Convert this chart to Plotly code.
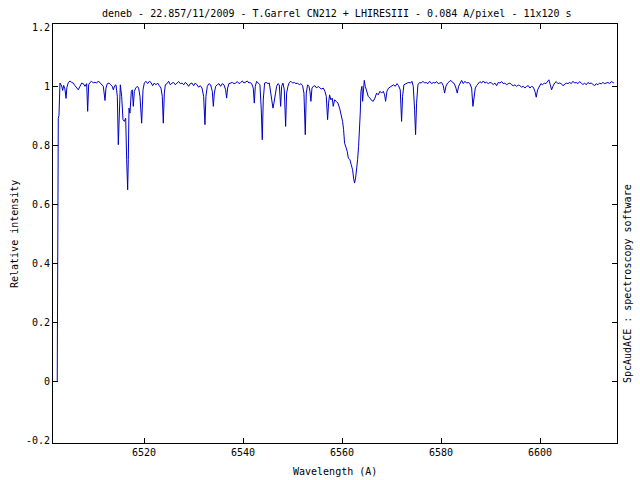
import plotly.graph_objects as go

# Wavelength (A) and relative intensity
wavelength = [
    6502.45, 6502.50, 6502.62, 6502.66, 6502.80, 6503.00, 6503.35, 6503.55, 6503.75, 6504.00,
    6504.22, 6504.40, 6504.69, 6505.03, 6505.37, 6505.70, 6506.04, 6506.38, 6506.71, 6507.05,
    6507.39, 6507.72, 6508.06, 6508.40, 6508.60, 6508.80, 6509.07, 6509.41, 6509.75, 6510.08,
    6510.42, 6510.76, 6511.09, 6511.43, 6511.76, 6512.10, 6512.30, 6512.57, 6512.91, 6513.25,
    6513.58, 6513.78, 6514.05, 6514.32, 6514.59, 6514.79, 6515.00, 6515.20, 6515.47, 6515.74,
    6516.01, 6516.28, 6516.48, 6516.68, 6516.81, 6516.95, 6517.15, 6517.42, 6517.62, 6517.82,
    6518.03, 6518.30, 6518.63, 6518.90, 6519.17, 6519.51, 6519.78, 6520.05, 6520.38, 6520.72,
    6521.06, 6521.39, 6521.73, 6522.07, 6522.40, 6522.74, 6523.08, 6523.41, 6523.68, 6523.88,
    6524.09, 6524.29, 6524.63, 6524.96, 6525.30, 6525.64, 6525.97, 6526.31, 6526.65, 6526.98,
    6527.32, 6527.66, 6527.99, 6528.33, 6528.67, 6529.00, 6529.34, 6529.68, 6530.01, 6530.35,
    6530.69, 6531.02, 6531.36, 6531.70, 6532.03, 6532.30, 6532.50, 6532.77, 6533.11, 6533.45,
    6533.78, 6533.99, 6534.19, 6534.46, 6534.79, 6535.13, 6535.47, 6535.80, 6536.14, 6536.48,
    6536.68, 6536.88, 6537.15, 6537.49, 6537.83, 6538.16, 6538.50, 6538.84, 6539.17, 6539.51,
    6539.85, 6540.18, 6540.52, 6540.86, 6541.19, 6541.39, 6541.73, 6542.06, 6542.27, 6542.47,
    6542.74, 6543.07, 6543.41, 6543.68, 6543.88, 6544.08, 6544.35, 6544.69, 6545.03, 6545.30,
    6545.57, 6545.83, 6546.04, 6546.24, 6546.51, 6546.78, 6547.05, 6547.32, 6547.59, 6547.79,
    6548.06, 6548.33, 6548.60, 6548.80, 6549.07, 6549.34, 6549.67, 6550.01, 6550.35, 6550.68,
    6551.02, 6551.36, 6551.69, 6552.03, 6552.30, 6552.57, 6552.77, 6553.04, 6553.31, 6553.51,
    6553.71, 6553.92, 6554.18, 6554.52, 6554.86, 6555.19, 6555.53, 6555.87, 6556.21, 6556.54,
    6556.81, 6557.08, 6557.28, 6557.48, 6557.75, 6558.02, 6558.22, 6558.49, 6558.83, 6559.17,
    6559.50, 6559.84, 6560.11, 6560.31, 6560.51, 6560.78, 6561.05, 6561.26, 6561.59, 6561.86,
    6562.13, 6562.33, 6562.53, 6562.74, 6562.94, 6563.14, 6563.34, 6563.55, 6563.68, 6563.81,
    6564.02, 6564.15, 6564.35, 6564.49, 6564.69, 6564.96, 6565.29, 6565.63, 6565.97, 6566.30,
    6566.64, 6566.98, 6567.31, 6567.65, 6567.99, 6568.33, 6568.60, 6568.80, 6569.07, 6569.40,
    6569.74, 6570.08, 6570.41, 6570.75, 6571.09, 6571.42, 6571.76, 6572.03, 6572.23, 6572.50,
    6572.84, 6573.17, 6573.51, 6573.85, 6574.12, 6574.39, 6574.66, 6574.86, 6575.06, 6575.33,
    6575.67, 6576.00, 6576.34, 6576.68, 6577.01, 6577.35, 6577.69, 6578.10, 6578.43, 6578.77,
    6579.11, 6579.44, 6579.78, 6580.12, 6580.45, 6580.72, 6580.99, 6581.33, 6581.67, 6582.00,
    6582.34, 6582.68, 6583.01, 6583.28, 6583.55, 6583.82, 6584.16, 6584.49, 6584.83, 6585.17,
    6585.50, 6585.84, 6586.18, 6586.45, 6586.65, 6586.92, 6587.19, 6587.52, 6587.86, 6588.20,
    6588.53, 6588.87, 6589.21, 6589.54, 6589.88, 6590.22, 6590.55, 6590.89, 6591.23, 6591.56,
    6591.90, 6592.24, 6592.57, 6592.91, 6593.25, 6593.58, 6593.92, 6594.26, 6594.60, 6594.93,
    6595.27, 6595.61, 6595.94, 6596.28, 6596.62, 6596.95, 6597.29, 6597.63, 6597.96, 6598.30,
    6598.64, 6598.97, 6599.24, 6599.51, 6599.85, 6600.18, 6600.52, 6600.86, 6601.19, 6601.53,
    6601.80, 6602.07, 6602.34, 6602.61, 6602.95, 6603.28, 6603.62, 6603.96, 6604.29, 6604.63,
    6604.97, 6605.30, 6605.64, 6605.98, 6606.31, 6606.65, 6606.99, 6607.32, 6607.66, 6608.00,
    6608.33, 6608.67, 6609.01, 6609.34, 6609.68, 6610.02, 6610.35, 6610.69, 6611.03, 6611.36,
    6611.70, 6612.04, 6612.37, 6612.71, 6613.05, 6613.38, 6613.72, 6614.06, 6614.39, 6614.73,
    6614.93,
]

intensity = [
    0.000, 0.290, 0.290, 0.890, 0.900, 1.010, 1.000, 0.985, 1.002, 0.990,
    0.958, 0.995, 1.012, 1.017, 1.012, 1.010, 1.001, 0.993, 0.987, 0.999,
    1.010, 1.008, 0.999, 1.008, 0.914, 1.004, 1.012, 1.016, 1.010, 1.013,
    1.010, 1.017, 1.010, 1.004, 0.999, 0.951, 0.993, 1.008, 1.010, 1.004,
    0.999, 0.987, 1.001, 1.004, 0.965, 0.801, 0.953, 1.004, 0.965, 0.886,
    0.880, 0.891, 0.750, 0.648, 0.750, 0.925, 0.908, 0.982, 0.987, 0.931,
    0.982, 0.993, 0.999, 0.993, 0.965, 0.874, 0.987, 1.010, 1.016, 1.008,
    1.016, 1.012, 1.001, 1.010, 1.004, 1.010, 1.001, 0.993, 0.965, 0.874,
    0.976, 1.004, 1.008, 1.016, 1.004, 1.010, 1.012, 1.004, 1.010, 1.015,
    1.008, 1.010, 1.004, 1.012, 1.007, 0.999, 1.008, 1.010, 1.001, 1.010,
    1.004, 0.996, 1.001, 0.993, 0.965, 0.869, 0.965, 0.999, 1.008, 1.004,
    0.982, 0.931, 0.976, 0.999, 1.004, 1.008, 0.999, 1.008, 1.004, 0.987,
    0.959, 0.993, 1.008, 1.010, 1.012, 1.008, 1.010, 1.015, 1.008, 1.012,
    1.017, 1.010, 1.013, 1.017, 1.010, 1.012, 1.008, 0.993, 0.942, 0.999,
    1.016, 1.010, 1.004, 0.919, 0.818, 0.953, 1.010, 1.012, 1.008, 1.010,
    0.976, 0.936, 0.925, 0.942, 0.976, 0.999, 1.008, 1.004, 0.931, 0.999,
    1.010, 0.987, 0.863, 0.976, 0.999, 1.012, 1.016, 1.010, 1.012, 1.008,
    1.010, 1.004, 1.008, 1.001, 0.976, 0.835, 0.976, 1.004, 0.999, 0.982,
    0.948, 0.993, 0.999, 1.001, 0.993, 0.999, 0.993, 0.990, 0.993, 0.982,
    0.965, 0.886, 0.942, 0.970, 0.953, 0.959, 0.931, 0.953, 0.948, 0.942,
    0.925, 0.903, 0.880, 0.852, 0.806, 0.793, 0.778, 0.756, 0.750, 0.733,
    0.716, 0.688, 0.671, 0.688, 0.716, 0.750, 0.795, 0.852, 0.908, 0.982,
    0.999, 0.948, 0.993, 1.019, 0.999, 0.982, 0.965, 0.959, 0.951, 0.948,
    0.959, 0.976, 0.970, 0.982, 0.976, 0.982, 0.970, 0.948, 0.982, 0.993,
    0.996, 0.999, 1.004, 0.999, 1.008, 1.001, 0.987, 0.880, 0.965, 1.004,
    1.008, 1.010, 1.012, 1.010, 1.016, 0.999, 0.919, 0.835, 0.942, 1.004,
    1.012, 1.010, 1.016, 1.010, 1.012, 1.008, 1.016, 1.008, 1.012, 1.010,
    1.015, 1.008, 1.010, 1.012, 1.001, 0.976, 0.999, 1.010, 1.015, 1.019,
    1.012, 1.008, 0.993, 0.976, 0.999, 1.010, 1.019, 1.008, 1.016, 1.010,
    1.012, 1.008, 0.993, 0.931, 0.965, 0.993, 1.001, 1.010, 1.015, 1.010,
    1.017, 1.010, 1.013, 1.008, 1.012, 1.010, 1.005, 1.010, 1.001, 1.012,
    1.010, 1.015, 1.008, 1.010, 1.004, 1.008, 1.010, 1.004, 1.001, 1.004,
    0.999, 1.003, 1.001, 0.996, 0.999, 0.993, 0.999, 1.001, 0.993, 0.999,
    0.996, 0.982, 0.962, 0.987, 1.001, 1.008, 1.004, 1.010, 1.008, 1.015,
    1.021, 1.004, 0.987, 0.999, 1.010, 1.015, 1.008, 1.010, 1.008, 1.001,
    1.005, 1.010, 1.008, 1.012, 1.008, 1.016, 1.010, 1.012, 1.008, 1.015,
    1.010, 1.005, 1.010, 1.004, 1.012, 1.008, 1.010, 1.005, 1.001, 1.008,
    1.004, 1.010, 1.007, 1.012, 1.008, 1.010, 1.012, 1.008, 1.015, 1.012,
    1.010,
]

x_ticks = [6520, 6540, 6560, 6580, 6600]
y_ticks = [-0.2, 0, 0.2, 0.4, 0.6, 0.8, 1, 1.2]
y_tick_labels = ["-0.2", "0", "0.2", "0.4", "0.6", "0.8", "1", "1.2"]
x_range = [6502.2, 6614.95]
y_range = [-0.2, 1.2]

title_text = "deneb - 22.857/11/2009 - T.Garrel CN212 + LHIRESIII - 0.084 A/pixel - 11x120 s"
x_label = "Wavelength (A)"
y_label = "Relative intensity"
side_label = "SpcAudACE : spectroscopy software"

FONT = "DejaVu Sans Mono"
FS = 10

fig = go.Figure()
fig.add_trace(go.Scatter(
    x=wavelength, y=intensity, mode="lines",
    line=dict(color="#0000c8", width=1),
    hoverinfo="skip", showlegend=False,
))

axis_common = dict(
    showline=True, linecolor="black", linewidth=1, mirror="ticks",
    ticks="inside", ticklen=5, tickwidth=1, tickcolor="black",
    showgrid=False, zeroline=False,
    tickfont=dict(family=FONT, size=FS, color="black"),
)

fig.update_xaxes(range=x_range, tickvals=x_ticks, **axis_common)
fig.update_yaxes(range=y_range, tickvals=y_ticks, ticktext=y_tick_labels, **axis_common)

PH = 413.0  # plot height in px
PW = 558.0  # plot width in px

fig.update_layout(
    width=640, height=480,
    margin=dict(l=56, r=26, t=27, b=40, pad=3),
    paper_bgcolor="white", plot_bgcolor="white",
    font=dict(family=FONT, size=FS, color="black"),
    annotations=[
        dict(text=title_text, x=(337 - 56) / PW, y=1 + 14 / PH, xref="paper", yref="paper",
             showarrow=False, xanchor="center", yanchor="middle", font=dict(family=FONT, size=FS)),
        dict(text=x_label, x=(335 - 56) / PW, y=-(472 - 440) / PH, xref="paper", yref="paper",
             showarrow=False, xanchor="center", yanchor="middle", font=dict(family=FONT, size=FS)),
        dict(text=y_label, x=(14 - 56) / PW, y=(440 - 234) / PH, xref="paper", yref="paper",
             showarrow=False, textangle=-90, xanchor="center", yanchor="middle",
             font=dict(family=FONT, size=FS)),
        dict(text=side_label, x=(627 - 56) / PW, y=(440 - 284) / PH, xref="paper", yref="paper",
             showarrow=False, textangle=-90, xanchor="center", yanchor="middle",
             font=dict(family=FONT, size=FS)),
    ],
)

fig.write_html(
    "out.html",
    config={"displayModeBar": False, "staticPlot": True},
    post_script="document.body.style.margin='0';document.body.style.overflow='hidden';",
)
